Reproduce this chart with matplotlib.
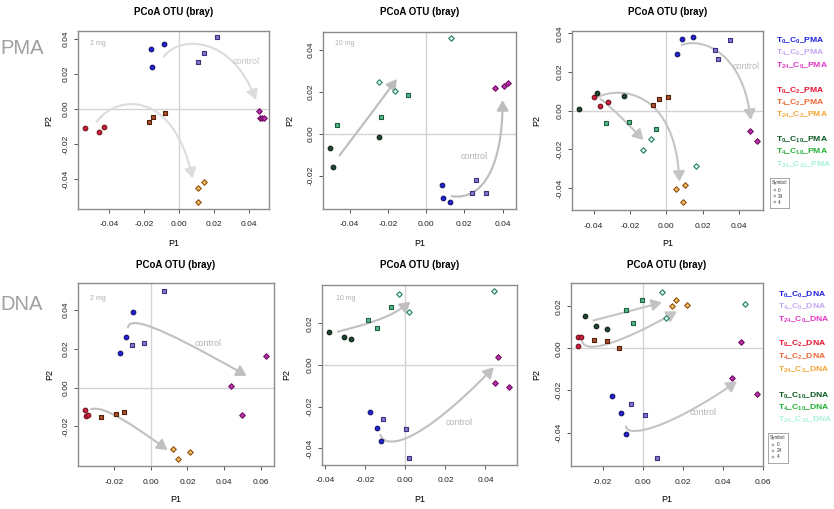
import matplotlib
matplotlib.use("Agg")
import matplotlib.pyplot as plt
from matplotlib.path import Path
from matplotlib.patches import FancyArrowPatch
from matplotlib.ticker import FormatStrFormatter

plt.rcParams.update({
    "font.family": ["Liberation Sans", "DejaVu Sans"],
    "axes.unicode_minus": False,
    "mathtext.fontset": "custom",
    "mathtext.rm": "Liberation Sans:bold",
    "mathtext.it": "Liberation Sans:bold",
    "mathtext.bf": "Liberation Sans:bold",
})

W, H = 834, 509

# ---- PMA, 2 mg (P1, P2 coordinates)
pma2_t0c0 = [(-0.0164, 0.0340), (-0.0158, 0.0241), (-0.0088, 0.0369)]
pma2_t4c0 = [(0.0105, 0.0270), (0.0141, 0.0317), (0.0217, 0.0412)]
pma2_t24c0 = [(0.0455, -0.0011), (0.0461, -0.0053), (0.0474, -0.0053), (0.0486, -0.0053)]
pma2_t0c2 = [(-0.0539, -0.0110), (-0.0461, -0.0129), (-0.0429, -0.0101)]
pma2_t4c2 = [(-0.0175, -0.0076), (-0.0149, -0.0044), (-0.0080, -0.0021)]
pma2_t24c2 = [(0.0105, -0.0449), (0.0141, -0.0414), (0.0105, -0.0532)]

# ---- PMA, 10 mg
pma10_t0c0 = [(0.0082, -0.0244), (0.0090, -0.0308), (0.0125, -0.0327)]
pma10_t4c0 = [(0.0238, -0.0283), (0.0261, -0.0219), (0.0311, -0.0281)]
pma10_t24c0 = [(0.0360, 0.0217), (0.0409, 0.0229), (0.0426, 0.0241)]
pma10_t0c10 = [(-0.0501, -0.0067), (-0.0489, -0.0159), (-0.0247, -0.0014)]
pma10_t4c10 = [(-0.0466, 0.0041), (-0.0237, 0.0081), (-0.0096, 0.0183)]
pma10_t24c10 = [(-0.0245, 0.0248), (-0.0160, 0.0202), (0.0130, 0.0457)]

# ---- PMA, all
pma_t0c0 = [(0.0056, 0.0293), (0.0087, 0.0372), (0.0148, 0.0383)]
pma_t4c0 = [(0.0268, 0.0314), (0.0281, 0.0266), (0.0348, 0.0366)]
pma_t24c0 = [(0.0457, -0.0103), (0.0498, -0.0155)]
pma_t0c2 = [(-0.0397, 0.0072), (-0.0366, 0.0026), (-0.0321, 0.0047)]
pma_t4c2 = [(-0.0071, 0.0028), (-0.0040, 0.0059), (0.0011, 0.0069)]
pma_t24c2 = [(0.0053, -0.0407), (0.0102, -0.0384), (0.0093, -0.0474)]
pma_t0c10 = [(-0.0481, 0.0007), (-0.0381, 0.0090), (-0.0235, 0.0078)]
pma_t4c10 = [(-0.0334, -0.0066), (-0.0206, -0.0059), (-0.0055, -0.0093)]
pma_t24c10 = [(-0.0129, -0.0203), (-0.0086, -0.0145), (0.0162, -0.0284)]

# ---- DNA, 2 mg
dna2_t0c0 = [(-0.0100, 0.0387), (-0.0136, 0.0259), (-0.0171, 0.0175)]
dna2_t4c0 = [(0.0073, 0.0497), (-0.0104, 0.0216), (-0.0040, 0.0231)]
dna2_t24c0 = [(0.0440, 0.0010), (0.0498, -0.0142), (0.0629, 0.0163)]
dna2_t0c2 = [(-0.0358, -0.0115), (-0.0355, -0.0144), (-0.0344, -0.0141)]
dna2_t4c2 = [(-0.0273, -0.0153), (-0.0193, -0.0134), (-0.0147, -0.0125)]
dna2_t24c2 = [(0.0120, -0.0314), (0.0147, -0.0367), (0.0213, -0.0331)]

# ---- DNA, 10 mg
dna10_t0c0 = [(-0.0178, -0.0224), (-0.0140, -0.0301), (-0.0122, -0.0363)]
dna10_t4c0 = [(-0.0112, -0.0261), (0.0005, -0.0307), (0.0020, -0.0446)]
dna10_t24c0 = [(0.0463, 0.0040), (0.0450, -0.0088), (0.0518, -0.0104)]
dna10_t0c10 = [(-0.0380, 0.0160), (-0.0308, 0.0133), (-0.0272, 0.0126)]
dna10_t4c10 = [(-0.0187, 0.0216), (-0.0142, 0.0179), (-0.0070, 0.0278)]
dna10_t24c10 = [(-0.0032, 0.0341), (0.0018, 0.0256), (0.0443, 0.0354)]

# ---- DNA, all
dna_t0c0 = [(-0.0153, -0.0225), (-0.0107, -0.0308), (-0.0083, -0.0405)]
dna_t4c0 = [(-0.0060, -0.0263), (0.0013, -0.0316), (0.0073, -0.0522)]
dna_t24c0 = [(0.0448, -0.0141), (0.0493, 0.0029), (0.0572, -0.0217)]
dna_t0c2 = [(-0.0323, 0.0056), (-0.0308, 0.0052), (-0.0323, 0.0011)]
dna_t4c2 = [(-0.0245, 0.0040), (-0.0178, 0.0035), (-0.0120, 0.0000)]
dna_t24c2 = [(0.0145, 0.0203), (0.0165, 0.0229), (0.0220, 0.0205)]
dna_t0c10 = [(-0.0290, 0.0156), (-0.0232, 0.0108), (-0.0180, 0.0094)]
dna_t4c10 = [(-0.0085, 0.0184), (-0.0048, 0.0121), (-0.0002, 0.0230)]
dna_t24c10 = [(0.0097, 0.0270), (0.0118, 0.0146), (0.0513, 0.0213)]

# hand drawn trend arrows: start, control, control, end
pma2_arrows = [[(-0.0088, 0.0298), (0.0000, 0.0420), (0.0300, 0.0420), (0.0438, 0.0051)],
               [(-0.0472, -0.0072), (-0.0350, 0.0090), (-0.0030, 0.0100), (0.0076, -0.0395)]]
pma10_arrows = [[(-0.0452, -0.0103), (-0.0350, 0.0020), (-0.0250, 0.0140), (-0.0153, 0.0260)],
                [(0.0134, -0.0298), (0.0300, -0.0320), (0.0400, -0.0150), (0.0400, 0.0159)]]
pma_arrows = [[(0.0084, 0.0340), (0.0200, 0.0380), (0.0420, 0.0300), (0.0463, -0.0048)],
              [(-0.0381, 0.0069), (-0.0250, 0.0130), (0.0050, 0.0100), (0.0071, -0.0367)],
              [(-0.0363, 0.0062), (-0.0280, 0.0000), (-0.0200, -0.0080), (-0.0126, -0.0152)]]
dna2_arrows = [[(-0.0125, 0.0310), (-0.0110, 0.0360), (0.0000, 0.0340), (0.0524, 0.0060)],
               [(-0.0327, -0.0111), (-0.0280, -0.0100), (-0.0200, -0.0120), (0.0091, -0.0321)]]
dna10_arrows = [[(-0.0338, 0.0160), (-0.0220, 0.0190), (-0.0080, 0.0220), (0.0025, 0.0304)],
                [(-0.0125, -0.0336), (-0.0100, -0.0400), (0.0050, -0.0400), (0.0442, -0.0011)]]
dna_arrows = [[(-0.0245, 0.0133), (-0.0130, 0.0160), (-0.0020, 0.0190), (0.0097, 0.0219)],
              [(-0.0303, 0.0033), (-0.0280, -0.0030), (-0.0100, 0.0030), (0.0172, 0.0176)],
              [(-0.0083, -0.0371), (-0.0080, -0.0420), (0.0100, -0.0400), (0.0472, -0.0157)]]

control_pos = [(0.0381, 0.0270), (0.0250, -0.0108), (0.0439, 0.0228),
               (0.0315, 0.0225), (0.0267, -0.0277), (0.0305, -0.0303)]
dose_labels = ["2 mg", "10 mg", "", "2 mg", "10 mg", ""]
dose_pos = [(-0.0463, 0.0374), (-0.0423, 0.0429), None, (-0.0291, 0.0458), (-0.0300, 0.0320), None]

legend_names = [r"T_{0}\_C_{0}", r"T_{4}\_C_{0}", r"T_{24}\_C_{0}",
                r"T_{0}\_C_{2}", r"T_{4}\_C_{2}", r"T_{24}\_C_{2}",
                r"T_{0}\_C_{10}", r"T_{4}\_C_{10}", r"T_{24}\_C_{10}"]
legend_colors = ["#2020e0", "#c4a6f2", "#e236c4", "#ea1030", "#f06434", "#f6a636",
                 "#0c5a22", "#22b032", "#a8f2dc"]

# marker, face, edge
MARK = {
    "t0c0": ("o", "#2222d8", "#12126e"),
    "t4c0": ("s", "#8a74d8", "#40307a"),
    "t24c0": ("D", "#c030b0", "#6e1060"),
    "t0c2": ("o", "#d0203a", "#701020"),
    "t4c2": ("s", "#b05028", "#502010"),
    "t24c2": ("D", "#f2c060", "#905010"),
    "t0c10": ("o", "#1f4a30", "#102018"),
    "t4c10": ("s", "#50b888", "#206040"),
    "t24c10": ("D", "#e6fff4", "#208060"),
}
SIZE = {"o": 11, "s": 10, "D": 8}

panels = [
    dict(box=(78, 31, 269, 209), xlim=(-0.0579, 0.0513), ylim=(-0.0569, 0.0444),
         xt=[-0.04, -0.02, 0, 0.02, 0.04], yt=[-0.04, -0.02, 0, 0.02, 0.04],
         groups=[("t0c0", pma2_t0c0), ("t4c0", pma2_t4c0), ("t24c0", pma2_t24c0),
                 ("t0c2", pma2_t0c2), ("t4c2", pma2_t4c2), ("t24c2", pma2_t24c2)],
         arrows=pma2_arrows, acol="#dcdcdc", ccol="#c4c4c4", p2x=49),
    dict(box=(323, 32, 516, 209), xlim=(-0.0539, 0.047), ylim=(-0.0359, 0.0484),
         xt=[-0.04, -0.02, 0, 0.02, 0.04], yt=[-0.02, 0, 0.02, 0.04],
         groups=[("t0c0", pma10_t0c0), ("t4c0", pma10_t4c0), ("t24c0", pma10_t24c0),
                 ("t0c10", pma10_t0c10), ("t4c10", pma10_t4c10), ("t24c10", pma10_t24c10)],
         arrows=pma10_arrows, acol="#bcbcbc", ccol="#b4b4b4", p2x=290),
    dict(box=(572, 31, 763, 210), xlim=(-0.0518, 0.053), ylim=(-0.0514, 0.0412),
         xt=[-0.04, -0.02, 0, 0.02, 0.04], yt=[-0.04, -0.02, 0, 0.02, 0.04],
         groups=[("t0c0", pma_t0c0), ("t4c0", pma_t4c0), ("t24c0", pma_t24c0),
                 ("t0c2", pma_t0c2), ("t4c2", pma_t4c2), ("t24c2", pma_t24c2),
                 ("t0c10", pma_t0c10), ("t4c10", pma_t4c10), ("t24c10", pma_t24c10)],
         arrows=pma_arrows, acol="#c4c4c4", ccol="#b8b8b8", p2x=537),
    dict(box=(78, 283, 274, 466), xlim=(-0.0398, 0.0673), ylim=(-0.0403, 0.0537),
         xt=[-0.02, 0, 0.02, 0.04, 0.06], yt=[-0.02, 0, 0.02, 0.04],
         groups=[("t0c0", dna2_t0c0), ("t4c0", dna2_t4c0), ("t24c0", dna2_t24c0),
                 ("t0c2", dna2_t0c2), ("t4c2", dna2_t4c2), ("t24c2", dna2_t24c2)],
         arrows=dna2_arrows, acol="#c0c0c0", ccol="#b4b4b4", p2x=50),
    dict(box=(322, 285, 517, 465), xlim=(-0.0417, 0.0558), ylim=(-0.048, 0.0384),
         xt=[-0.04, -0.02, 0, 0.02, 0.04], yt=[-0.04, -0.02, 0, 0.02],
         groups=[("t0c0", dna10_t0c0), ("t4c0", dna10_t4c0), ("t24c0", dna10_t24c0),
                 ("t0c10", dna10_t0c10), ("t4c10", dna10_t4c10), ("t24c10", dna10_t24c10)],
         arrows=dna10_arrows, acol="#c0c0c0", ccol="#b4b4b4", p2x=287),
    dict(box=(571, 283, 763, 466), xlim=(-0.0358, 0.0602), ylim=(-0.0559, 0.0311),
         xt=[-0.02, 0, 0.02, 0.04, 0.06], yt=[-0.04, -0.02, 0, 0.02],
         groups=[("t0c0", dna_t0c0), ("t4c0", dna_t4c0), ("t24c0", dna_t24c0),
                 ("t0c2", dna_t0c2), ("t4c2", dna_t4c2), ("t24c2", dna_t24c2),
                 ("t0c10", dna_t0c10), ("t4c10", dna_t4c10), ("t24c10", dna_t24c10)],
         arrows=dna_arrows, acol="#c4c4c4", ccol="#b4b4b4", p2x=537),
]

fig = plt.figure(figsize=(W / 100, H / 100), dpi=100)
fig.patch.set_facecolor("white")


def add_px_axes(l, t, r, b):
    return fig.add_axes([l / W, 1 - b / H, (r - l) / W, (b - t) / H])


for i, p in enumerate(panels):
    l, t, r, b = p["box"]
    ax = add_px_axes(l, t, r, b)
    ax.set_xlim(*p["xlim"])
    ax.set_ylim(*p["ylim"])
    ax.axhline(0, color="#d4d4d4", lw=1.0, zorder=1)
    ax.axvline(0, color="#d4d4d4", lw=1.0, zorder=1)
    for key, pts in p["groups"]:
        m, fc, ec = MARK[key]
        xs = [q[0] for q in pts]
        ys = [q[1] for q in pts]
        ax.scatter(xs, ys, marker=m, s=SIZE[m], c=fc, edgecolors=ec, linewidths=0.8, zorder=3)
    for a in p["arrows"]:
        path = Path(a, [Path.MOVETO, Path.CURVE4, Path.CURVE4, Path.CURVE4])
        ax.add_patch(FancyArrowPatch(path=path, arrowstyle="-|>,head_length=0.55,head_width=0.32",
                                     mutation_scale=11, color=p["acol"], lw=1.5, zorder=2))
    cx, cy = control_pos[i]
    ax.text(cx, cy, "control", color=p["ccol"], fontsize=6.5, ha="center", va="center")
    if dose_pos[i] is not None:
        ax.text(dose_pos[i][0], dose_pos[i][1], dose_labels[i], color="#b0b0b0",
                fontsize=5, ha="center", va="center")
    ax.set_xticks(p["xt"])
    ax.set_yticks(p["yt"])
    ax.xaxis.set_major_formatter(FormatStrFormatter("%.2f"))
    ax.yaxis.set_major_formatter(FormatStrFormatter("%.2f"))
    ax.tick_params(labelsize=6, length=3, width=0.7, color="#555555", labelcolor="#222222")
    ax.tick_params(axis="x", pad=6)
    ax.tick_params(axis="y", pad=3)
    for lab in ax.get_yticklabels():
        lab.set_rotation(90)
        lab.set_va("center")
    for s in ax.spines.values():
        s.set_color("#8c8c8c")
        s.set_linewidth(1.0)
    mid = (l + r) / 2
    top_row = t < 100
    fig.text(mid / W, 1 - (11.7 if top_row else 265) / H, "PCoA OTU (bray)",
             fontsize=7, fontweight="bold", ha="center", va="center")
    fig.text(mid / W, 1 - (244 if top_row else 500) / H, "P1", fontsize=6.5, ha="center", va="center")
    fig.text(p["p2x"] / W, 1 - ((t + b) / 2) / H, "P2", fontsize=6.5, rotation=90,
             ha="center", va="center")

# row labels
fig.text(0, 1 - 48 / H, "PMA", fontsize=14.5, color="#a0a0a0", ha="left", va="center")
fig.text(0, 1 - 305 / H, "DNA", fontsize=14.5, color="#a0a0a0", ha="left", va="center")

# coloured group legends
legend_rows = [(776, [40.7, 53.3, 65.7, 90.7, 102.7, 115, 140, 152.3, 165], "PMA"),
               (778, [295, 307.3, 320, 344, 357.3, 370, 395.7, 407.7, 420], "DNA")]
for lx, ys, suffix in legend_rows:
    for name, col, y in zip(legend_names, legend_colors, ys):
        fig.text(lx / W, 1 - y / H, "$\\mathrm{" + name + "\\_" + suffix + "}$",
                 color=col, fontsize=6.1, ha="left", va="center")

# "Symbol" key boxes
symbol_labels = ["0", "24", "4"]
for l, t, r, b in [(770, 178, 789, 208), (768, 433, 788, 463)]:
    sax = add_px_axes(l, t, r, b)
    sax.set_xlim(0, 1)
    sax.set_ylim(0, 1)
    sax.set_xticks([])
    sax.set_yticks([])
    for s in sax.spines.values():
        s.set_color("#999999")
        s.set_linewidth(0.6)
    sax.text(0.5, 0.84, "Symbol", fontsize=3.3, ha="center", va="center", color="#333333")
    for k, lab in enumerate(symbol_labels):
        yy = 0.6 - k * 0.2
        sax.scatter([0.25], [yy], s=2, marker="o", facecolors="none", edgecolors="#777777", linewidths=0.4)
        sax.text(0.42, yy, lab, fontsize=3.3, ha="left", va="center", color="#333333")

fig.savefig("out.png", dpi=100, facecolor="white")
